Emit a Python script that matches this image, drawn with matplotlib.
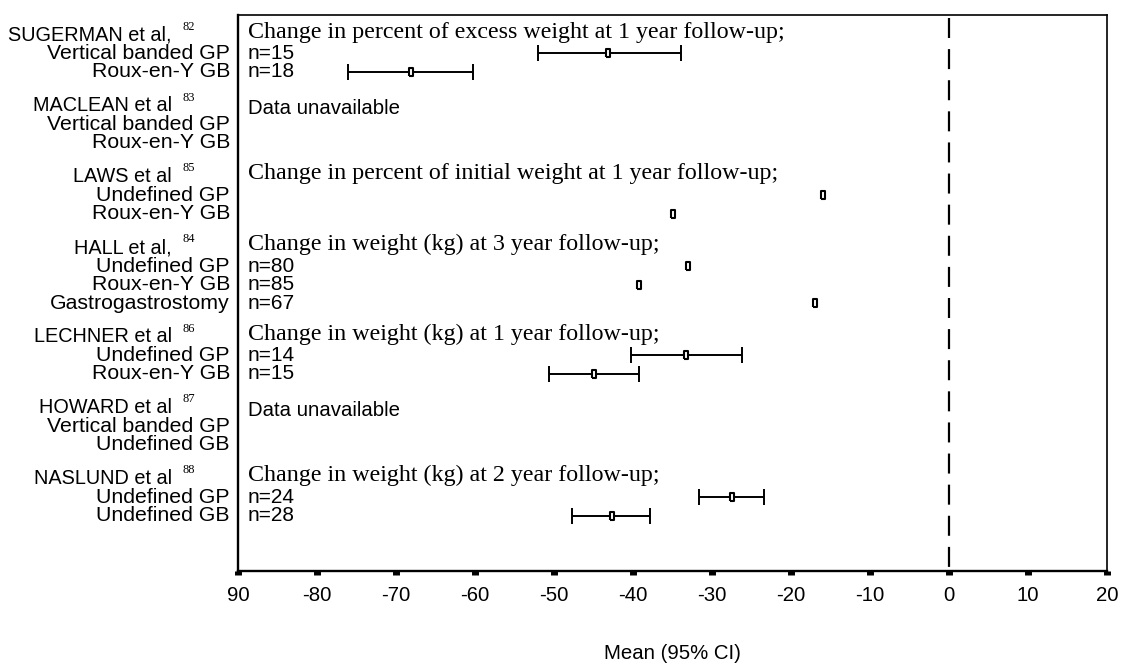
import numpy as np
import matplotlib
matplotlib.use("Agg")
import matplotlib.pyplot as plt
from matplotlib.path import Path

# Weight loss by study and procedure: mean with 95% CI
studies = ["SUGERMAN et al,", "MACLEAN et al", "LAWS et al", "HALL et al,",
           "LECHNER et al", "HOWARD et al", "NASLUND et al"]
refs = ["82", "83", "85", "84", "86", "87", "88"]
outcomes = [
    "Change in percent of excess weight at 1 year follow-up;",
    "Data unavailable",
    "Change in percent of initial weight at 1 year follow-up;",
    "Change in weight (kg) at 3 year follow-up;",
    "Change in weight (kg) at 1 year follow-up;",
    "Data unavailable",
    "Change in weight (kg) at 2 year follow-up;",
]
procedures = [
    ["Vertical banded GP", "Roux-en-Y GB"],
    ["Vertical banded GP", "Roux-en-Y GB"],
    ["Undefined GP", "Roux-en-Y GB"],
    ["Undefined GP", "Roux-en-Y GB", "Gastrogastrostomy"],
    ["Undefined GP", "Roux-en-Y GB"],
    ["Vertical banded GP", "Undefined GB"],
    ["Undefined GP", "Undefined GB"],
]
n_patients = [[15, 18], [None, None], [None, None], [80, 85, 67],
              [14, 15], [None, None], [24, 28]]
nan = np.nan
means = [[-43.1, -68.1], [nan, nan], [-15.9, -34.9], [-33.0, -39.2, -17.0],
         [-33.3, -44.9], [nan, nan], [-27.5, -42.7]]
ci_low = [[-52.0, -76.1], [nan, nan], [nan, nan], [nan, nan, nan],
          [-40.2, -50.6], [nan, nan], [-31.7, -47.7]]
ci_high = [[-33.9, -60.2], [nan, nan], [nan, nan], [nan, nan, nan],
           [-26.2, -39.2], [nan, nan], [-23.4, -37.8]]

x_ticks = list(range(-90, 21, 10))
x_tick_labels = ["90", "-80", "-70", "-60", "-50", "-40", "-30", "-20",
                 "-10", "0", "10", "20"]

SANS = ["Liberation Sans", "DejaVu Sans"]
SERIF = ["Liberation Serif", "DejaVu Serif"]
plt.rcParams["font.family"] = SANS

fig = plt.figure(figsize=(11.22, 6.63), dpi=100)
ax = fig.add_axes([0.2121, 0.1388, 0.7745, 0.8386])
ax.set_xlim(-90, 20)
ax.set_ylim(30.05, 0)
ylab = ax.get_yaxis_transform()

box = Path([(-0.55, -1), (0.55, -1), (0.55, 1), (-0.55, 1), (-0.55, -1)])

base = 1.08
for i, study in enumerate(studies):
    rows = base + 1 + np.arange(len(procedures[i]))
    ax.text(-0.076, base, study, transform=ylab, ha="right", va="center",
            fontsize=14.3, clip_on=False)
    ax.text(-0.0633, base - 0.45, refs[i], transform=ylab, ha="left",
            va="center", family=SERIF, fontsize=9, clip_on=False)

    has_data = not np.all(np.isnan(means[i]))
    if has_data:
        ax.text(0.012, base - 0.15, outcomes[i], transform=ylab, ha="left",
                va="center", family=SERIF, fontsize=17.3)
    else:
        ax.text(0.011, base + 0.12, outcomes[i], transform=ylab, ha="left",
                va="center", fontsize=14.7)

    for k, proc in enumerate(procedures[i]):
        y = rows[k]
        ax.text(-0.0092, y, proc, transform=ylab, ha="right", va="center",
                fontsize=15.3, clip_on=False)
        if n_patients[i][k] is not None:
            ax.text(0.011, y, f"n={n_patients[i][k]}", transform=ylab,
                    ha="left", va="center", fontsize=15)
        m = means[i][k]
        if np.isnan(m):
            continue
        lo, hi = ci_low[i][k], ci_high[i][k]
        if not np.isnan(lo):
            ax.errorbar([m], [y], xerr=[[m - lo], [hi - m]], fmt="none",
                        ecolor="black", elinewidth=1.4, capsize=6,
                        capthick=1.4)
        ax.plot([m], [y], marker=box, markersize=6, mfc="white",
                mec="black", mew=1.5, ls="none", zorder=3)
    base = rows[-1] + 1.83

# no-effect reference line
ax.plot([0, 0], [0.15, 30.05], color="black", lw=1.6, ls=(0, (9, 5)))

ax.set_xticks(x_ticks)
ax.set_xticklabels(x_tick_labels)
ax.set_yticks([])
ax.tick_params(axis="x", direction="out", length=3, width=5, pad=8,
               labelsize=14.7, colors="black")
ax.set_xlabel("Mean (95% CI)", fontsize=14.7, labelpad=28)

for side in ["top", "right"]:
    ax.spines[side].set_linewidth(1.2)
for side in ["left", "bottom"]:
    ax.spines[side].set_linewidth(1.7)

fig.savefig("out.png", dpi=100, facecolor="white")
